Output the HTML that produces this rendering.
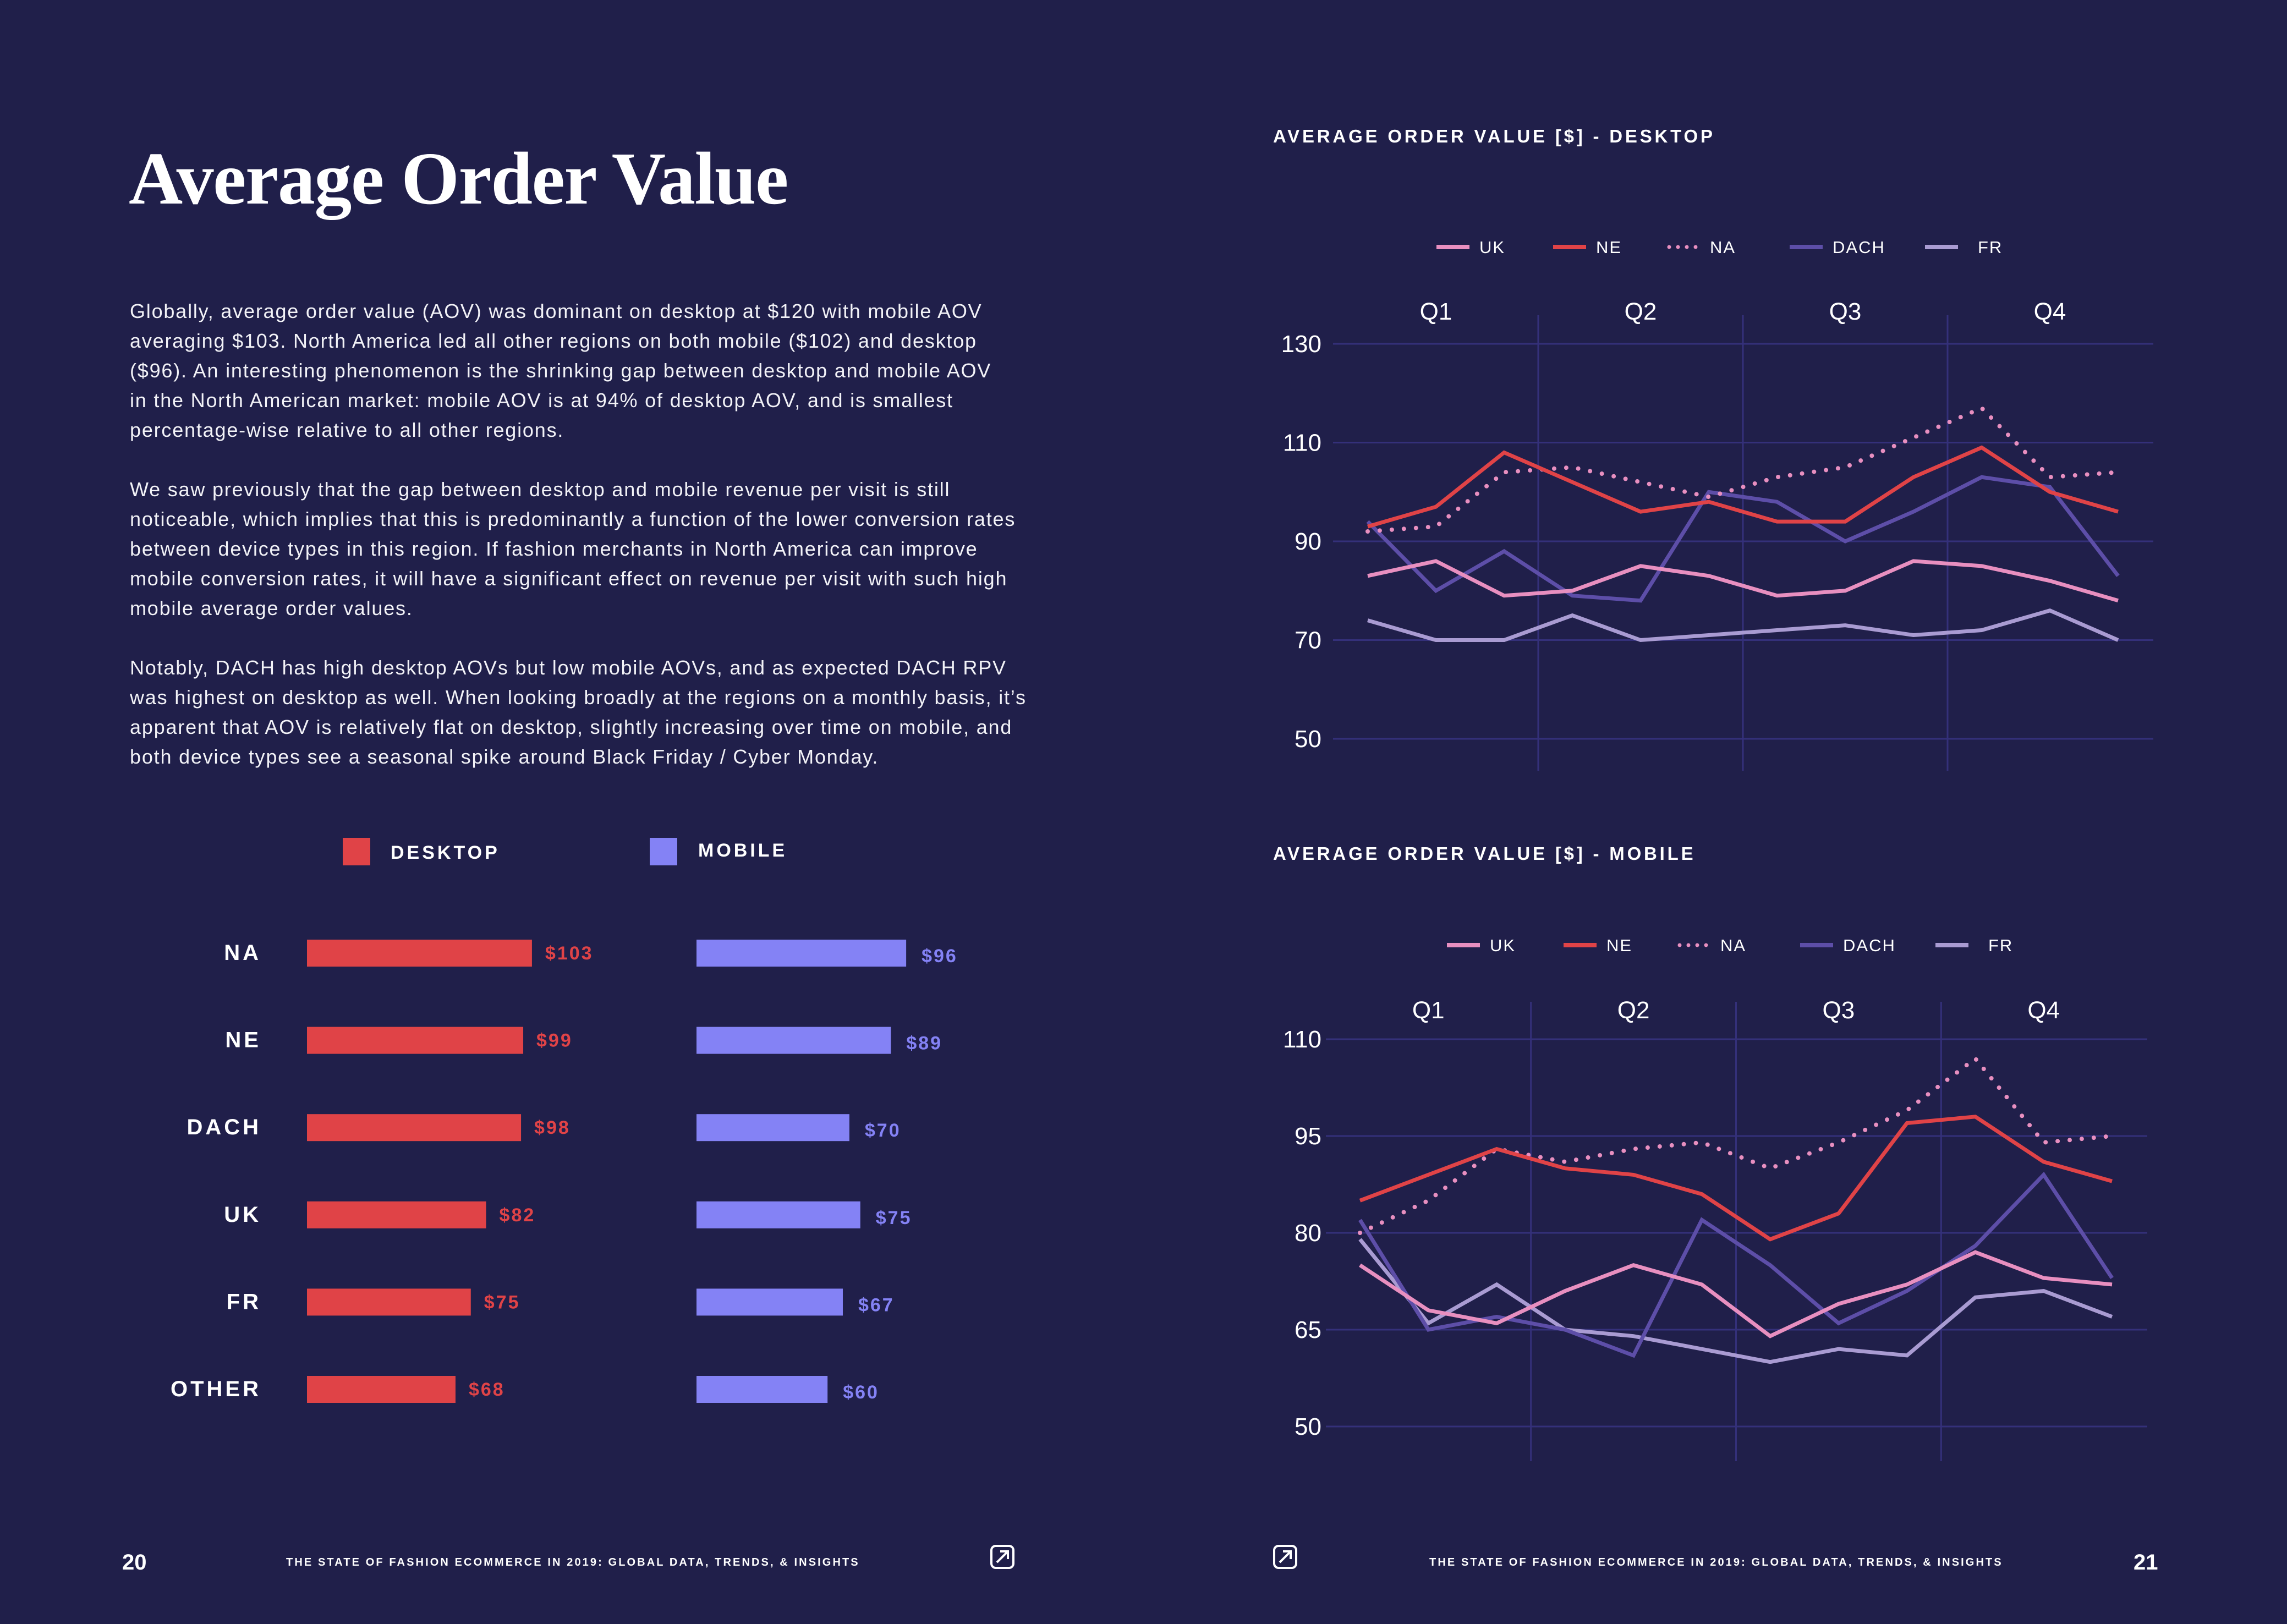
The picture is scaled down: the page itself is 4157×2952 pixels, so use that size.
<!DOCTYPE html>
<html><head><meta charset="utf-8">
<style>
html,body{margin:0;padding:0;background:#201f4a;}
svg{display:block;font-family:"Liberation Sans",sans-serif;}
.p{font-size:36px;fill:#f2f2f7;letter-spacing:1.8px;}
</style></head>
<body>
<svg id="page" width="4157" height="2952" viewBox="0 0 4157 2952">
<rect width="4157" height="2952" fill="#201f4a"/>
<text x="234" y="370" font-family="Liberation Serif, serif" font-weight="bold" font-size="136" fill="#ffffff" letter-spacing="-1.5">Average Order Value</text>
<g class="p">
<text x="236" y="578">Globally, average order value (AOV) was dominant on desktop at $120 with mobile AOV</text>
<text x="236" y="632">averaging $103. North America led all other regions on both mobile ($102) and desktop</text>
<text x="236" y="686">($96). An interesting phenomenon is the shrinking gap between desktop and mobile AOV</text>
<text x="236" y="740">in the North American market: mobile AOV is at 94% of desktop AOV, and is smallest</text>
<text x="236" y="794">percentage-wise relative to all other regions.</text>
<text x="236" y="902">We saw previously that the gap between desktop and mobile revenue per visit is still</text>
<text x="236" y="956">noticeable, which implies that this is predominantly a function of the lower conversion rates</text>
<text x="236" y="1010">between device types in this region. If fashion merchants in North America can improve</text>
<text x="236" y="1064">mobile conversion rates, it will have a significant effect on revenue per visit with such high</text>
<text x="236" y="1118">mobile average order values.</text>
<text x="236" y="1226">Notably, DACH has high desktop AOVs but low mobile AOVs, and as expected DACH RPV</text>
<text x="236" y="1280">was highest on desktop as well. When looking broadly at the regions on a monthly basis, it’s</text>
<text x="236" y="1334">apparent that AOV is relatively flat on desktop, slightly increasing over time on mobile, and</text>
<text x="236" y="1388">both device types see a seasonal spike around Black Friday / Cyber Monday.</text>
</g>
<g id="barchart"></g>
<text x="2314" y="259" font-size="33" font-weight="bold" fill="#fff" letter-spacing="4.8">AVERAGE ORDER VALUE [$] - DESKTOP</text>
<text x="2314" y="1563" font-size="33" font-weight="bold" fill="#fff" letter-spacing="4.8">AVERAGE ORDER VALUE [$] - MOBILE</text>
<g id="desk"></g>
<g id="mob"></g>
<g>
<text x="222" y="2853" font-size="40" font-weight="bold" fill="#fff">20</text>
<text x="520" y="2846" font-size="20" font-weight="bold" fill="#fff" letter-spacing="3.1">THE STATE OF FASHION ECOMMERCE IN 2019: GLOBAL DATA, TRENDS, &amp; INSIGHTS</text>
<text x="2598" y="2846" font-size="20" font-weight="bold" fill="#fff" letter-spacing="3.1">THE STATE OF FASHION ECOMMERCE IN 2019: GLOBAL DATA, TRENDS, &amp; INSIGHTS</text>
<text x="3878" y="2853" font-size="40" font-weight="bold" fill="#fff">21</text>
<g transform="translate(1800,2808)" fill="none" stroke="#fff" stroke-width="4"><rect x="2" y="2" width="40" height="40" rx="8"/><path d="M12 32 L32 12 M18 12 H32 V26"/></g>
<g transform="translate(2314,2808)" fill="none" stroke="#fff" stroke-width="4"><rect x="2" y="2" width="40" height="40" rx="8"/><path d="M12 32 L32 12 M18 12 H32 V26"/></g>
</g>
</svg>
<script>
const NS="http://www.w3.org/2000/svg";
function mk(parent,tag,attrs,txt){const e=document.createElementNS(NS,tag);for(const k in attrs)e.setAttribute(k,attrs[k]);if(txt!==undefined)e.textContent=txt;parent.appendChild(e);return e;}

// ---- bar chart data ----
const barRegions=["NA","NE","DACH","UK","FR","OTHER"];
const desktopAOV=[103,99,98,82,75,68];
const mobileAOV=[96,89,70,75,67,60];

// ---- line chart data ----
const months=["Jan","Feb","Mar","Apr","May","Jun","Jul","Aug","Sep","Oct","Nov","Dec"];
const quarters=["Q1","Q2","Q3","Q4"];
const seriesNames=["UK","NE","NA","DACH","FR"];
const deskUK=[83,86,79,80,85,83,79,80,86,85,82,78];
const deskNE=[93,97,108,102,96,98,94,94,103,109,100,96];
const deskNA=[92,93,104,105,102,99,103,105,111,117,103,104];
const deskDACH=[94,80,88,79,78,100,98,90,96,103,101,83];
const deskFR=[74,70,70,75,70,71,72,73,71,72,76,70];
const deskTicks=[50,70,90,110,130];
const mobUK=[75,68,66,71,75,72,64,69,72,77,73,72];
const mobNE=[85,89,93,90,89,86,79,83,97,98,91,88];
const mobNA=[80,85,93,91,93,94,90,94,99,107,94,95];
const mobDACH=[82,65,67,65,61,82,75,66,71,78,89,73];
const mobFR=[79,66,72,65,64,62,60,62,61,70,71,67];
const mobTicks=[50,65,80,95,110];

// bar chart
(function(){
  const g=document.getElementById('barchart');
  const red="#e04347", blue="#8482f5";
  let r=mk(g,'rect',{x:623,y:1523,width:50,height:50,fill:red});
  
  let t=mk(g,'text',{x:710,y:1561,'font-size':34,'font-weight':'bold',fill:'#fff','letter-spacing':5},'DESKTOP');
  
  r=mk(g,'rect',{x:1181,y:1523,width:50,height:50,fill:blue});
  
  t=mk(g,'text',{x:1269,y:1557,'font-size':34,'font-weight':'bold',fill:'#fff','letter-spacing':5},'MOBILE');
  
  const k=3.97, x0d=558, x0m=1266, y0=1708, step=158.6, h=49;
  barRegions.forEach((reg,i)=>{
    const y=y0+i*step;
    let l=mk(g,'text',{x:475,y:y+37,'font-size':40,'font-weight':'bold',fill:'#fff','text-anchor':'end','letter-spacing':5},reg);
    
    const wd=desktopAOV[i]*k;
    let b=mk(g,'rect',{x:x0d,y:y,width:wd,height:h,fill:red});
    
    let v=mk(g,'text',{x:x0d+wd+24,y:y+36,'font-size':34,'font-weight':'bold',fill:red,'letter-spacing':3},'$'+desktopAOV[i]);
    
    const wm=mobileAOV[i]*k;
    b=mk(g,'rect',{x:x0m,y:y,width:wm,height:h,fill:blue});
    
    v=mk(g,'text',{x:x0m+wm+28,y:y+41,'font-size':34,'font-weight':'bold',fill:blue,'letter-spacing':3},'$'+mobileAOV[i]);
    
  });
})();

const colors={UK:"#e88fc0",NE:"#e04347",NA:"#e88fc0",DACH:"#5d4ea8",FR:"#a99bd2"};

function lineChart(id,cfg){
  const g=document.getElementById(id);
  const yS=v=>cfg.yTop+(cfg.ticks[cfg.ticks.length-1]-v)*(cfg.yBot-cfg.yTop)/(cfg.ticks[cfg.ticks.length-1]-cfg.ticks[0]);
  const xS=i=>cfg.x0+i*(cfg.x1-cfg.x0)/(months.length-1);
  const lx=[cfg.legX,cfg.legX+212,cfg.legX+419,cfg.legX+642,cfg.legX+888];
  seriesNames.forEach((n,i)=>{
    const attrs={x1:lx[i],x2:lx[i]+60,y1:cfg.legY,y2:cfg.legY,stroke:colors[n],'stroke-width':8};
    if(n==="NA"){attrs['stroke-dasharray']='0 16';attrs['stroke-linecap']='round';attrs['stroke-width']=7;attrs.x1=lx[i]+4;}
    let l=mk(g,'line',attrs);
    
    let t=mk(g,'text',{x:lx[i]+(n==="FR"?96:78),y:cfg.legY+11,'font-size':31,fill:'#fff','letter-spacing':2},n);
    
  });
  cfg.ticks.forEach(v=>{
    let l=mk(g,'line',{x1:cfg.gx0,x2:cfg.gx1,y1:yS(v),y2:yS(v),stroke:'#34307a','stroke-width':3});
    
    let t=mk(g,'text',{x:2402,y:yS(v)+15,'font-size':44,fill:'#fff','text-anchor':'end'},v);
    
  });
  for(let q=1;q<4;q++){
    const x=(xS(q*3-1)+xS(q*3))/2;
    let l=mk(g,'line',{x1:x,x2:x,y1:cfg.dTop,y2:cfg.dBot,stroke:'#34307a','stroke-width':3});
    
  }
  quarters.forEach((q,i)=>{
    const x=(xS(i*3)+xS(i*3+2))/2;
    let t=mk(g,'text',{x:x,y:cfg.qY,'font-size':44,fill:'#fff','text-anchor':'middle'},q);
    
  });
  const order=["FR","DACH","UK","NA","NE"];
  order.forEach(n=>{
    const data=cfg.data[n];
    const pts=data.map((v,i)=>xS(i).toFixed(1)+','+yS(v).toFixed(1)).join(' ');
    const attrs={points:pts,fill:'none',stroke:colors[n],'stroke-width':7,'stroke-linejoin':'miter'};
    if(n==="NA"){attrs['stroke-dasharray']='0 22';attrs['stroke-linecap']='round';attrs['stroke-width']=8;}
    let p=mk(g,'polyline',attrs);
    
  });
}

lineChart('desk',{x0:2486,x1:3850,gx0:2423,gx1:3914,yTop:625,yBot:1343,ticks:deskTicks,dTop:573,dBot:1401,qY:581,legX:2611,legY:449,
  data:{UK:deskUK,NE:deskNE,NA:deskNA,DACH:deskDACH,FR:deskFR}});
lineChart('mob',{x0:2472,x1:3839,gx0:2410,gx1:3903,yTop:1889,yBot:2593,ticks:mobTicks,dTop:1821,dBot:2656,qY:1851,legX:2630,legY:1718,
  data:{UK:mobUK,NE:mobNE,NA:mobNA,DACH:mobDACH,FR:mobFR}});
</script>
</body></html>
